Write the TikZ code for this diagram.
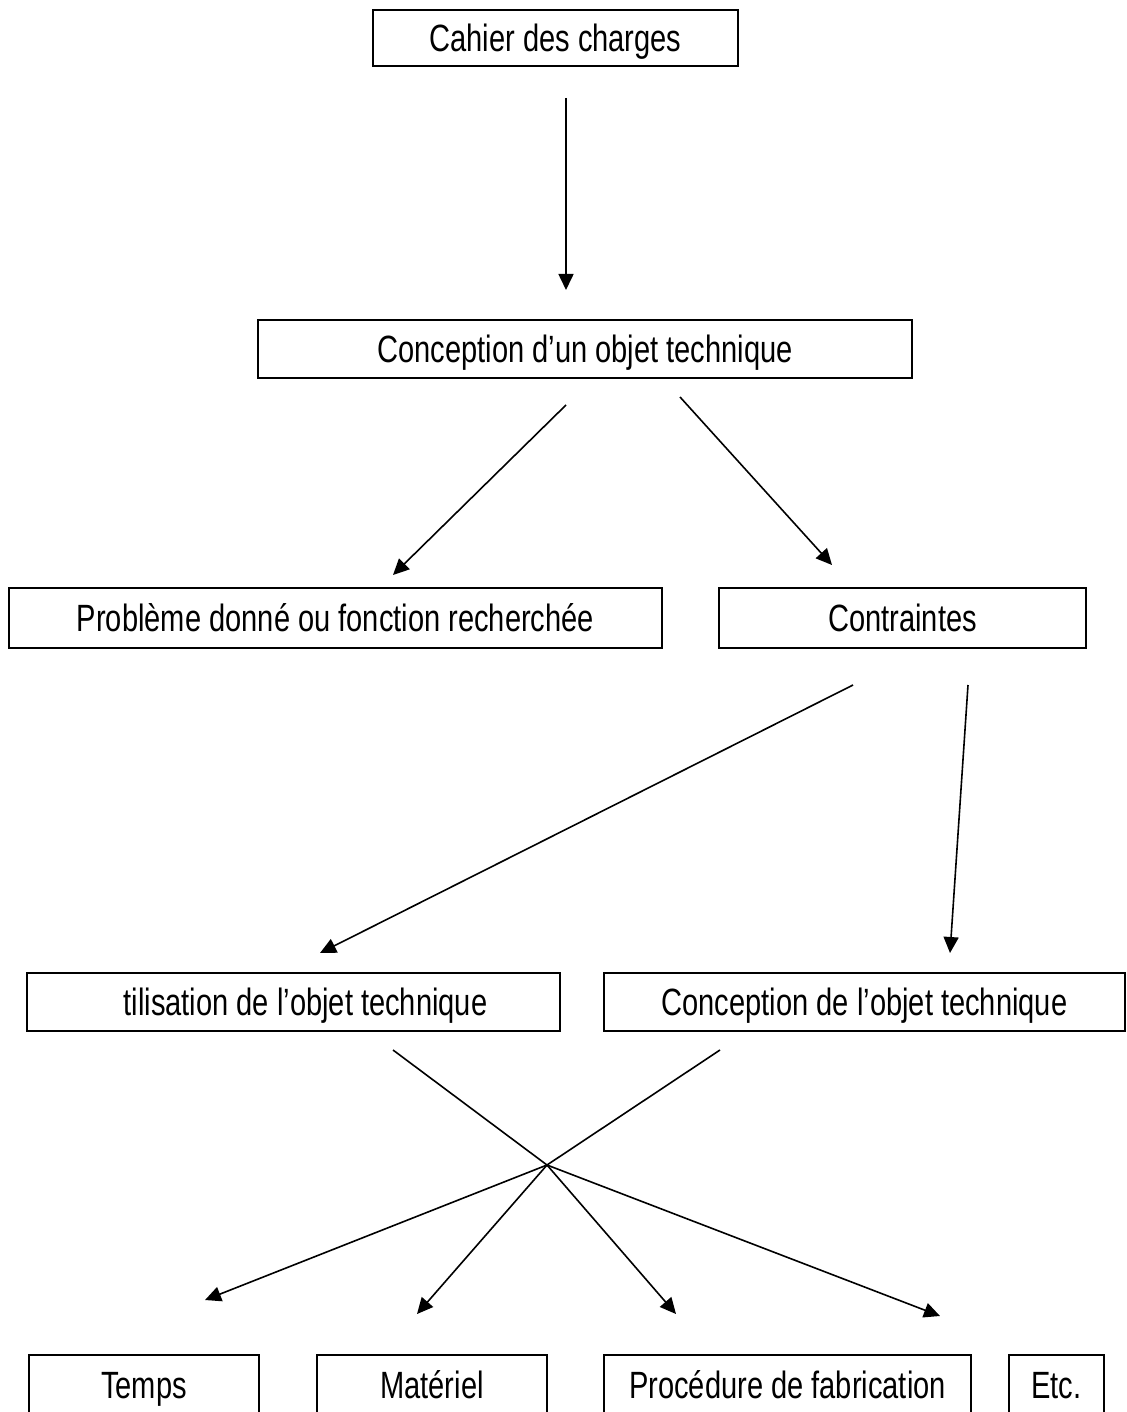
\documentclass[tikz,border=0pt]{standalone}
\usepackage{fontspec}
\setmainfont[FakeStretch=0.765]{Liberation Sans}
\usetikzlibrary{arrows.meta}
\begin{document}
\begin{tikzpicture}[x=1pt,y=-1pt,
  box/.style={draw, line width=1.6pt, inner sep=0pt, minimum height=58pt,
    font=\fontsize{38pt}{40pt}\selectfont, text height=27pt, text depth=0pt},
  conn/.style={line width=1.6pt},
  arr/.style={conn, -{Triangle[length=16pt,width=15pt]}}]
\useasboundingbox (0,0) rectangle (1126,1412);
\clip (0,0) rectangle (1126,1412);
\fill[white] (0,0) rectangle (1126,1412);

% boxes
\node[box, minimum width=365pt, minimum height=56pt] (cahier) at (555.5,38) {Cahier des charges};
\node[box, minimum width=654pt] (conc) at (585,349) {Conception d’un objet technique};
\node[box, minimum width=653pt, minimum height=60pt] (prob) at (335.5,618) {Problème donné ou fonction recherchée};
\node[box, minimum width=367pt, minimum height=60pt] (contr) at (902.5,618) {Contraintes};
\node[box, minimum width=533pt] (util) at (293.5,1002) {\hspace*{24pt}tilisation de l’objet technique};
\node[box, minimum width=521pt] (concobj) at (864.5,1002) {Conception de l’objet technique};
\node[box, minimum width=230pt, minimum height=60pt] (temps) at (144,1385) {Temps};
\node[box, minimum width=230pt, minimum height=60pt] (mat) at (432,1385) {Matériel};
\node[box, minimum width=367pt, minimum height=60pt] (proc) at (787.5,1385) {Procédure de fabrication};
\node[box, minimum width=95pt, minimum height=60pt] (etc) at (1056.5,1385) {Etc.};

% connector end points
\coordinate (s1) at (566,98);   \coordinate (e1) at (566,290);
\coordinate (s2) at (566,405);  \coordinate (e2) at (393,575);
\coordinate (s3) at (680,397);  \coordinate (e3) at (832,565);
\coordinate (s4) at (853,685);  \coordinate (e4) at (320,953);
\coordinate (s5) at (968,685);  \coordinate (e5) at (950,953);
\coordinate (s6) at (393,1050); \coordinate (s7) at (720,1050);
\coordinate (hub) at (547,1165);
\coordinate (t1) at (205,1300); \coordinate (t2) at (417,1314);
\coordinate (t3) at (676,1314); \coordinate (t4) at (940,1316);

\draw[arr] (s1) -- (e1);
\draw[arr] (s2) -- (e2);
\draw[arr] (s3) -- (e3);
\draw[arr] (s4) -- (e4);
\draw[arr] (s5) -- (e5);
\draw[conn] (s6) -- (hub);
\draw[conn] (s7) -- (hub);
\draw[arr] (hub) -- (t1);
\draw[arr] (hub) -- (t2);
\draw[arr] (hub) -- (t3);
\draw[arr] (hub) -- (t4);
\end{tikzpicture}
\end{document}
